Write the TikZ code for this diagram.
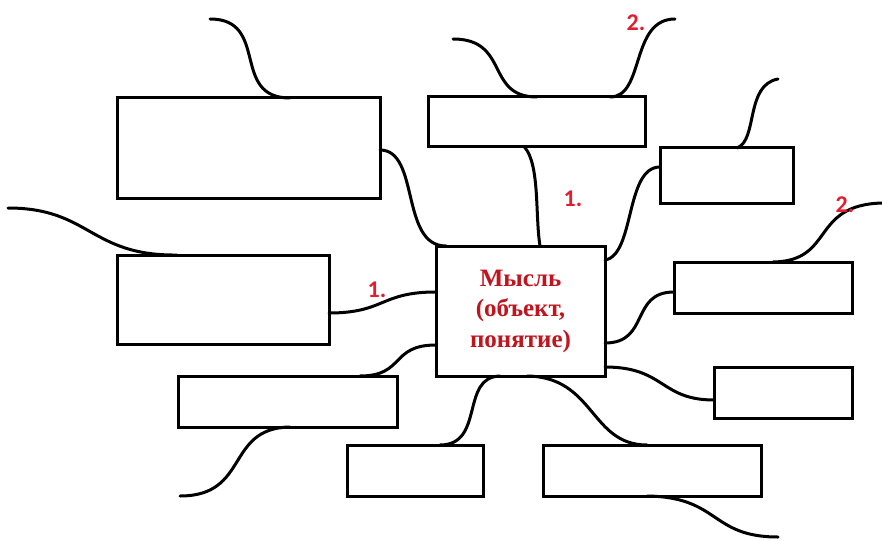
\documentclass[tikz,border=0pt]{standalone}
\usepackage{fontspec}
\setmainfont{Liberation Serif}
\newfontfamily\mainserif{Liberation Serif}
\newfontfamily\labfont{Carlito}
\usetikzlibrary{calc}
\definecolor{maintxt}{RGB}{192,20,30}
\definecolor{labred}{RGB}{225,30,45}
\begin{document}
\begin{tikzpicture}[x=1pt,y=-1pt,
  box/.style={draw=black,line width=3pt,fill=white,inner sep=0pt,outer sep=0pt,rectangle},
  link/.style={draw=black,line width=3pt,line cap=round},
  lab/.style={text=labred,font=\labfont\bfseries\fontsize{24}{24}\selectfont,inner sep=0pt}]
\useasboundingbox (0,0) rectangle (882,540);
% free ends
\coordinate (fA) at (210,19);
\coordinate (fL) at (8,208);
\coordinate (fE) at (180,496);
\coordinate (fG) at (778,537);
\coordinate (fB1) at (453,39);
\coordinate (fB2) at (675,19);
\coordinate (fC) at (778,79);
\coordinate (fH) at (882,203);
% boxes
\node[box,minimum width=263,minimum height=100] (A) at (248.5,148) {};
\node[box,minimum width=217,minimum height=50] (B) at (536.5,122) {};
\node[box,minimum width=133,minimum height=55] (C) at (726.5,175.5) {};
\node[box,minimum width=212,minimum height=89] (D) at (223,299.5) {};
\node[box,minimum width=219,minimum height=51] (E) at (287.5,401.5) {};
\node[box,minimum width=136,minimum height=51] (F) at (415,470.5) {};
\node[box,minimum width=218,minimum height=51] (G) at (652,470.5) {};
\node[box,minimum width=178,minimum height=51] (H) at (763,287.5) {};
\node[box,minimum width=138,minimum height=51] (I) at (783,392.5) {};
\node[box,minimum width=169,minimum height=130,align=center,text=maintxt,
  font=\mainserif\bfseries\fontsize{25}{30.5}\selectfont] (M) at (520.5,311) {Мысль\\(объект,\\понятие)};
% connectors
\draw[link] (fA) .. controls (270,19) and (230,98) .. ([shift={(173,0)}]A.north west);
\draw[link] ([shift={(0,52)}]A.north east) .. controls (420,150) and (400,246) .. ([shift={(10,0)}]M.north west);
\draw[link] (fL) .. controls (90,208) and (90,256) .. ([shift={(60,0)}]D.north west);
\draw[link] ([shift={(0,58)}]D.north east) .. controls (385,313) and (380,292) .. ([shift={(0,46)}]M.north west);
\draw[link] ([shift={(0,-31)}]M.south west) .. controls (390,345) and (405,376) .. ([shift={(-37,0)}]E.north east);
\draw[link] ([shift={(112,0)}]E.south west) .. controls (225,428) and (250,496) .. (fE);
\draw[link] ([shift={(64,0)}]M.south west) .. controls (460,377) and (485,445) .. ([shift={(-43,0)}]F.north east);
\draw[link] ([shift={(91,0)}]M.south west) .. controls (595,377) and (590,445) .. ([shift={(104,0)}]G.north west);
\draw[link] ([shift={(104,0)}]G.south west) .. controls (720,497) and (710,537) .. (fG);
\draw[link] ([shift={(0,-9)}]M.south east) .. controls (665,367) and (660,400) .. ([shift={(0,-18)}]I.south west);
\draw[link] ([shift={(0,-33)}]M.south east) .. controls (650,343) and (630,292) .. ([shift={(0,30)}]H.north west);
\draw[link] ([shift={(0,14)}]M.north east) .. controls (635,255) and (625,167) .. ([shift={(0,19)}]C.north west);
\draw[link] ([shift={(104,0)}]M.north west) .. controls (535,215) and (540,165) .. ([shift={(-12,0)}]B.south);
\draw[link] (fB1) .. controls (510,39) and (485,97) .. ([shift={(109,0)}]B.north west);
\draw[link] ([shift={(-35,0)}]B.north east) .. controls (645,97) and (630,19) .. (fB2);
\draw[link] ([shift={(77,0)}]C.north west) .. controls (758,140) and (745,85) .. (fC);
\draw[link] ([shift={(99,0)}]H.north west) .. controls (835,261) and (810,205) .. (fH);
% labels
\node[lab] (l1a) at (377,290) {1.};
\node[lab] (l1b) at (573,199) {1.};
\node[lab] (l2a) at (636,23) {2.};
\node[lab] (l2b) at (845,205) {2.};
\end{tikzpicture}
\end{document}
